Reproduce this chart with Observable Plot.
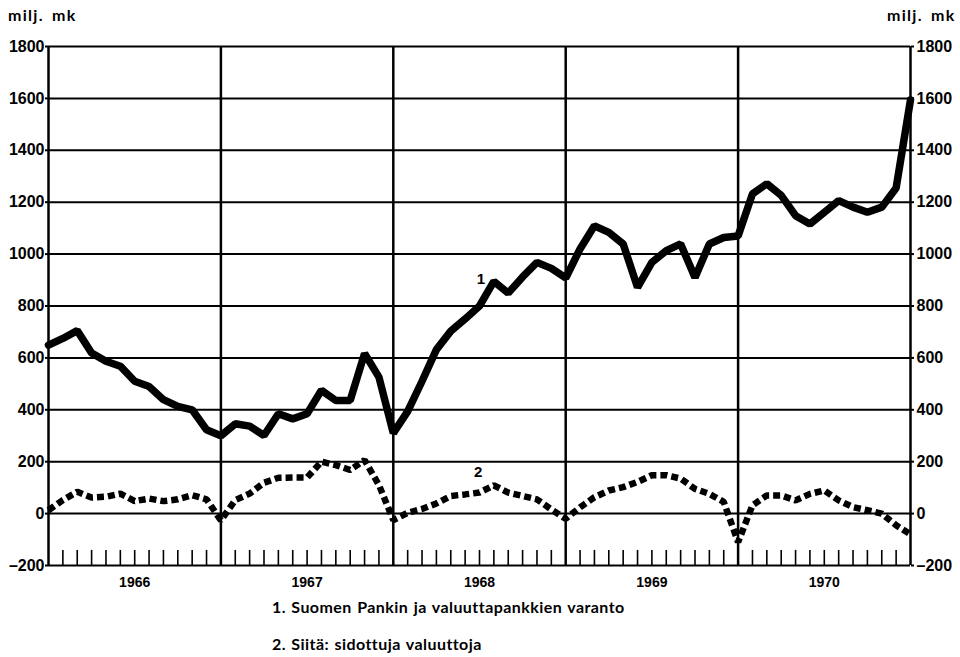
<!DOCTYPE html>
<html><head><meta charset="utf-8">
<script src="https://cdn.jsdelivr.net/npm/d3@7"></script>
<script src="https://cdn.jsdelivr.net/npm/@observablehq/plot@0.6"></script>
<style>
body{margin:0;background:#fff;}
#wrap{position:relative;width:960px;height:657px;background:#fff;color:#000;overflow:hidden}
.unit{position:absolute;top:5px;font:bold 16px Lato, "Liberation Sans", sans-serif;letter-spacing:1.3px;word-spacing:3px;white-space:nowrap}
.legend{position:absolute;left:272px;font:bold 16px Lato, "Liberation Sans", sans-serif;letter-spacing:0.45px;word-spacing:1px;white-space:nowrap}
</style></head><body>
<div id="wrap">
  <div class="unit" style="left:8px">milj. mk</div>
  <div class="unit" style="left:887px">milj. mk</div>
  <div id="chart" style="position:absolute;left:0;top:0"></div>
  <div class="legend" style="top:597px">1. Suomen Pankin ja valuuttapankkien varanto</div>
  <div class="legend" style="top:634px">2. Siitä: sidottuja valuuttoja</div>
</div>
<script>
// Years shown on the x axis (each year = 12 monthly steps)
const years = [1966, 1967, 1968, 1969, 1970];
// y axis tick values (milj. mk)
const yTicks = [-200, 0, 200, 400, 600, 800, 1000, 1200, 1400, 1600, 1800];

// Series 1: Suomen Pankin ja valuuttapankkien varanto (month-end values, 61 points)
const series1 = [
  649, 675, 705, 619, 587, 568, 510, 490, 439, 413, 400, 323,
  300, 346, 337, 301, 385, 365, 385, 475, 436, 436, 617, 526,
  310, 394, 510, 632, 703, 750, 800, 895, 850, 912, 968, 945,
  908, 1020, 1109, 1084, 1039, 872, 968, 1013, 1039, 910, 1039, 1064,
  1070, 1232, 1271, 1226, 1148, 1116, 1161, 1206, 1181, 1161, 1181, 1255, 1594
];
// Series 2: Siitä: sidottuja valuuttoja
const series2 = [
  13, 52, 84, 62, 65, 77, 48, 58, 48, 55, 71, 55,
  -26, 52, 77, 119, 138, 139, 139, 200, 187, 168, 206, 110,
  -25, 3, 18, 39, 68, 74, 81, 109, 81, 68, 55, 16,
  -20, 24, 63, 89, 102, 122, 148, 148, 135, 95, 76, 45,
  -110, 32, 70, 70, 51, 76, 89, 51, 25, 13, 0, -45, -80
];
// Series labels placed on the chart
const seriesLabels = ["1", "2"];
const labelPos = [{x: 30.1, y: 905}, {x: 29.9, y: 160}];

const monthIdx = d3.range(series1.length);
const s1 = monthIdx.map(i => ({m: i, v: series1[i]}));
const s2 = monthIdx.map(i => ({m: i, v: series2[i]}));
const yearBounds = d3.range(0, years.length * 12 + 1, 12);
const yearMids = years.map((y, j) => j * 12 + 6);
const monthTicks = monthIdx.filter(i => i % 12 !== 0);
const labels = seriesLabels.map((t, j) => ({t, ...labelPos[j]}));

const fmt = d => d < 0 ? "\u2013" + Math.abs(d) : String(d);

const chart = Plot.plot({
  width: 960,
  height: 595,
  marginTop: 46,
  marginBottom: 30,
  marginLeft: 48,
  marginRight: 50,
  x: {domain: [0, 60]},
  y: {domain: [-200, 1800]},
  style: {fontFamily: "'Liberation Sans', Arial, sans-serif", fontWeight: "bold", fontSize: "16px", color: "#000", background: "transparent", overflow: "visible"},
  marks: [
    Plot.ruleY(yTicks, {stroke: "#000", strokeWidth: 2}),
    Plot.ruleX(yearBounds, {stroke: "#000", strokeWidth: 2.5}),
    Plot.ruleX(monthTicks, {y1: -200, y2: -142, stroke: "#000", strokeWidth: 1.6}),
    Plot.axisY({ticks: yTicks, anchor: "left", tickSize: 3, tickPadding: 1, label: null, tickFormat: fmt, strokeWidth: 2, fontSize: 16}),
    Plot.axisY({ticks: yTicks, anchor: "right", tickSize: 3, tickPadding: 3, label: null, tickFormat: fmt, strokeWidth: 2, fontSize: 16}),
    Plot.axisX({ticks: yearMids, anchor: "bottom", tickSize: 0, tickPadding: 12, label: null, tickFormat: (d) => String(years[(d - 6) / 12]), fontSize: 14}),
    Plot.line(s2, {x: "m", y: "v", stroke: "#000", strokeWidth: 6.5, strokeDasharray: "7 4", strokeLinecap: "butt", strokeLinejoin: "miter"}),
    Plot.line(s1, {x: "m", y: "v", stroke: "#000", strokeWidth: 7.5, strokeLinejoin: "miter"}),
    Plot.text(labels, {x: "x", y: "y", text: "t", fontSize: 15, fontWeight: "bold", fill: "#000"})
  ]
});
document.getElementById("chart").appendChild(chart);
</script>
</body></html>
